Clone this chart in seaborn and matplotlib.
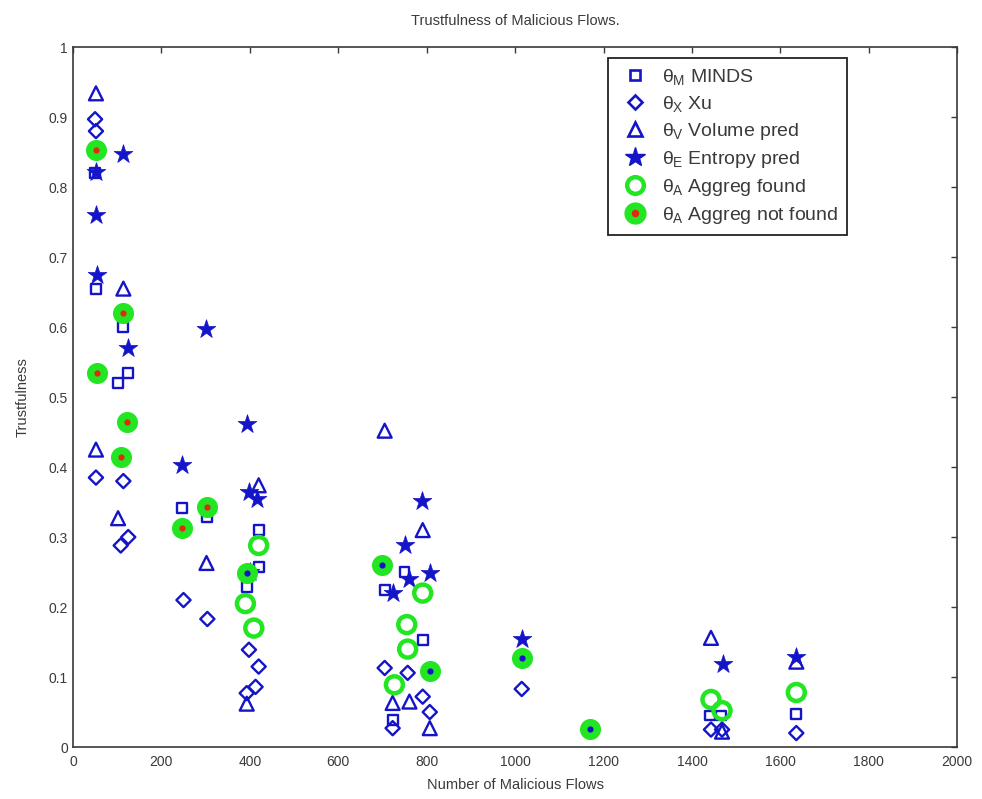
import matplotlib
matplotlib.use('Agg')
import matplotlib.pyplot as plt
import seaborn as sns
from matplotlib.lines import Line2D

# Data
minds_x = [50, 52, 114, 125, 102, 246, 304, 420, 420, 393, 705, 750, 791, 723, 1440, 1465, 1635]
minds_y = [0.82, 0.655, 0.60, 0.535, 0.52, 0.341, 0.328, 0.31, 0.257, 0.229, 0.224, 0.25, 0.153, 0.039, 0.045, 0.045, 0.047]

xu_x = [50, 52, 52, 114, 125, 108, 250, 304, 398, 420, 413, 393, 705, 757, 791, 807, 723, 1015, 1443, 1468, 1636]
xu_y = [0.897, 0.88, 0.385, 0.38, 0.30, 0.288, 0.21, 0.183, 0.139, 0.115, 0.086, 0.077, 0.113, 0.106, 0.072, 0.05, 0.027, 0.083, 0.025, 0.025, 0.02]

vol_x = [52, 52, 114, 102, 302, 420, 393, 705, 791, 723, 761, 807, 1443, 1468, 1636]
vol_y = [0.934, 0.425, 0.655, 0.327, 0.263, 0.374, 0.062, 0.452, 0.31, 0.063, 0.065, 0.027, 0.156, 0.022, 0.122]

ent_x = [52, 52, 55, 114, 125, 302, 246, 393, 398, 416, 400, 789, 750, 807, 723, 760, 1015, 1470, 1636]
ent_y = [0.822, 0.76, 0.675, 0.848, 0.57, 0.598, 0.403, 0.462, 0.365, 0.355, 0.25, 0.352, 0.289, 0.248, 0.22, 0.24, 0.155, 0.118, 0.128]

found_x = [420, 390, 409, 791, 755, 757, 727, 1443, 1468, 1636]
found_y = [0.288, 0.205, 0.17, 0.22, 0.175, 0.14, 0.089, 0.068, 0.052, 0.078]

notfound_x = [52, 55, 114, 123, 109, 246, 304]
notfound_y = [0.853, 0.535, 0.62, 0.465, 0.415, 0.313, 0.343]

# green markers with a blue centre (not in the legend)
other_x = [393, 700, 807, 1015, 1170]
other_y = [0.248, 0.26, 0.108, 0.127, 0.026]

blue = '#1414c8'
green = '#22e622'
red = '#e02a10'
grey = '#3a3a3a'

sns.set_style('white')
plt.rcParams['font.family'] = ['Liberation Sans', 'DejaVu Sans']
plt.rcParams['mathtext.fontset'] = 'custom'
plt.rcParams['mathtext.rm'] = 'Liberation Sans'
plt.rcParams['mathtext.it'] = 'Liberation Sans'

fig = plt.figure(figsize=(9.82, 7.99), dpi=100)
ax = fig.add_axes([0.0743, 0.065, 0.9005, 0.876])

hollow = dict(facecolor='none', edgecolor=blue, linewidth=1.7)
sns.scatterplot(x=minds_x, y=minds_y, marker='s', s=50, ax=ax, **hollow)
sns.scatterplot(x=xu_x, y=xu_y, marker='D', s=52, ax=ax, **hollow)
sns.scatterplot(x=vol_x, y=vol_y, marker='^', s=100, ax=ax, **hollow)
sns.scatterplot(x=ent_x, y=ent_y, marker='*', s=200, color=blue, linewidth=0.5, edgecolor=blue, ax=ax)
sns.scatterplot(x=found_x, y=found_y, marker='o', s=150, facecolor='none', edgecolor=green, linewidth=3.2, ax=ax)
sns.scatterplot(x=notfound_x, y=notfound_y, marker='o', s=230, color=green, linewidth=0, ax=ax)
sns.scatterplot(x=notfound_x, y=notfound_y, marker='o', s=20, color=red, linewidth=0, ax=ax)
sns.scatterplot(x=other_x, y=other_y, marker='o', s=230, color=green, linewidth=0, ax=ax)
sns.scatterplot(x=other_x, y=other_y, marker='o', s=20, color=blue, linewidth=0, ax=ax)

ax.set_xlim(0, 2000)
ax.set_ylim(0, 1)
ax.set_xticks(range(0, 2001, 200))
ax.set_yticks([i / 10 for i in range(11)])
ax.set_yticklabels(['0', '0.1', '0.2', '0.3', '0.4', '0.5', '0.6', '0.7', '0.8', '0.9', '1'])
ax.tick_params(direction='in', length=4, width=1, colors=grey, labelsize=10,
               top=True, right=True, labelcolor=grey)
ax.tick_params(axis='x', pad=6)
for sp in ax.spines.values():
    sp.set_color(grey)
    sp.set_linewidth(1.2)

ax.set_title('Trustfulness of Malicious Flows.', fontsize=10.5, color=grey, pad=16)
ax.set_xlabel('Number of Malicious Flows', fontsize=10.5, color=grey, labelpad=6)
ax.set_ylabel('Trustfulness', fontsize=10.5, color=grey, labelpad=14)

handles = [
    Line2D([], [], ls='none', marker='s', ms=7, mfc='none', mec=blue, mew=1.9),
    Line2D([], [], ls='none', marker='D', ms=7, mfc='none', mec=blue, mew=1.9),
    Line2D([], [], ls='none', marker='^', ms=10, mfc='none', mec=blue, mew=1.9),
    Line2D([], [], ls='none', marker='*', ms=15, color=blue),
    Line2D([], [], ls='none', marker='o', ms=12, mfc='none', mec=green, mew=3.2),
    (Line2D([], [], ls='none', marker='o', ms=15, color=green),
     Line2D([], [], ls='none', marker='o', ms=4.4, color=red)),
]
labels = [r'$\theta_M$ MINDS', r'$\theta_X$ Xu', r'$\theta_V$ Volume pred',
          r'$\theta_E$ Entropy pred', r'$\theta_A$ Aggreg found', r'$\theta_A$ Aggreg not found']
leg = ax.legend(handles, labels, loc='upper left', bbox_to_anchor=(0.605, 0.984),
                borderaxespad=0, fontsize=14, frameon=True, fancybox=False, framealpha=1,
                edgecolor='#222222', labelspacing=0.36, handlelength=1.9,
                handletextpad=0.45, borderpad=0.45)
leg.get_frame().set_linewidth(1.3)
for t in leg.get_texts():
    t.set_color(grey)

fig.savefig('out.png', dpi=100)
